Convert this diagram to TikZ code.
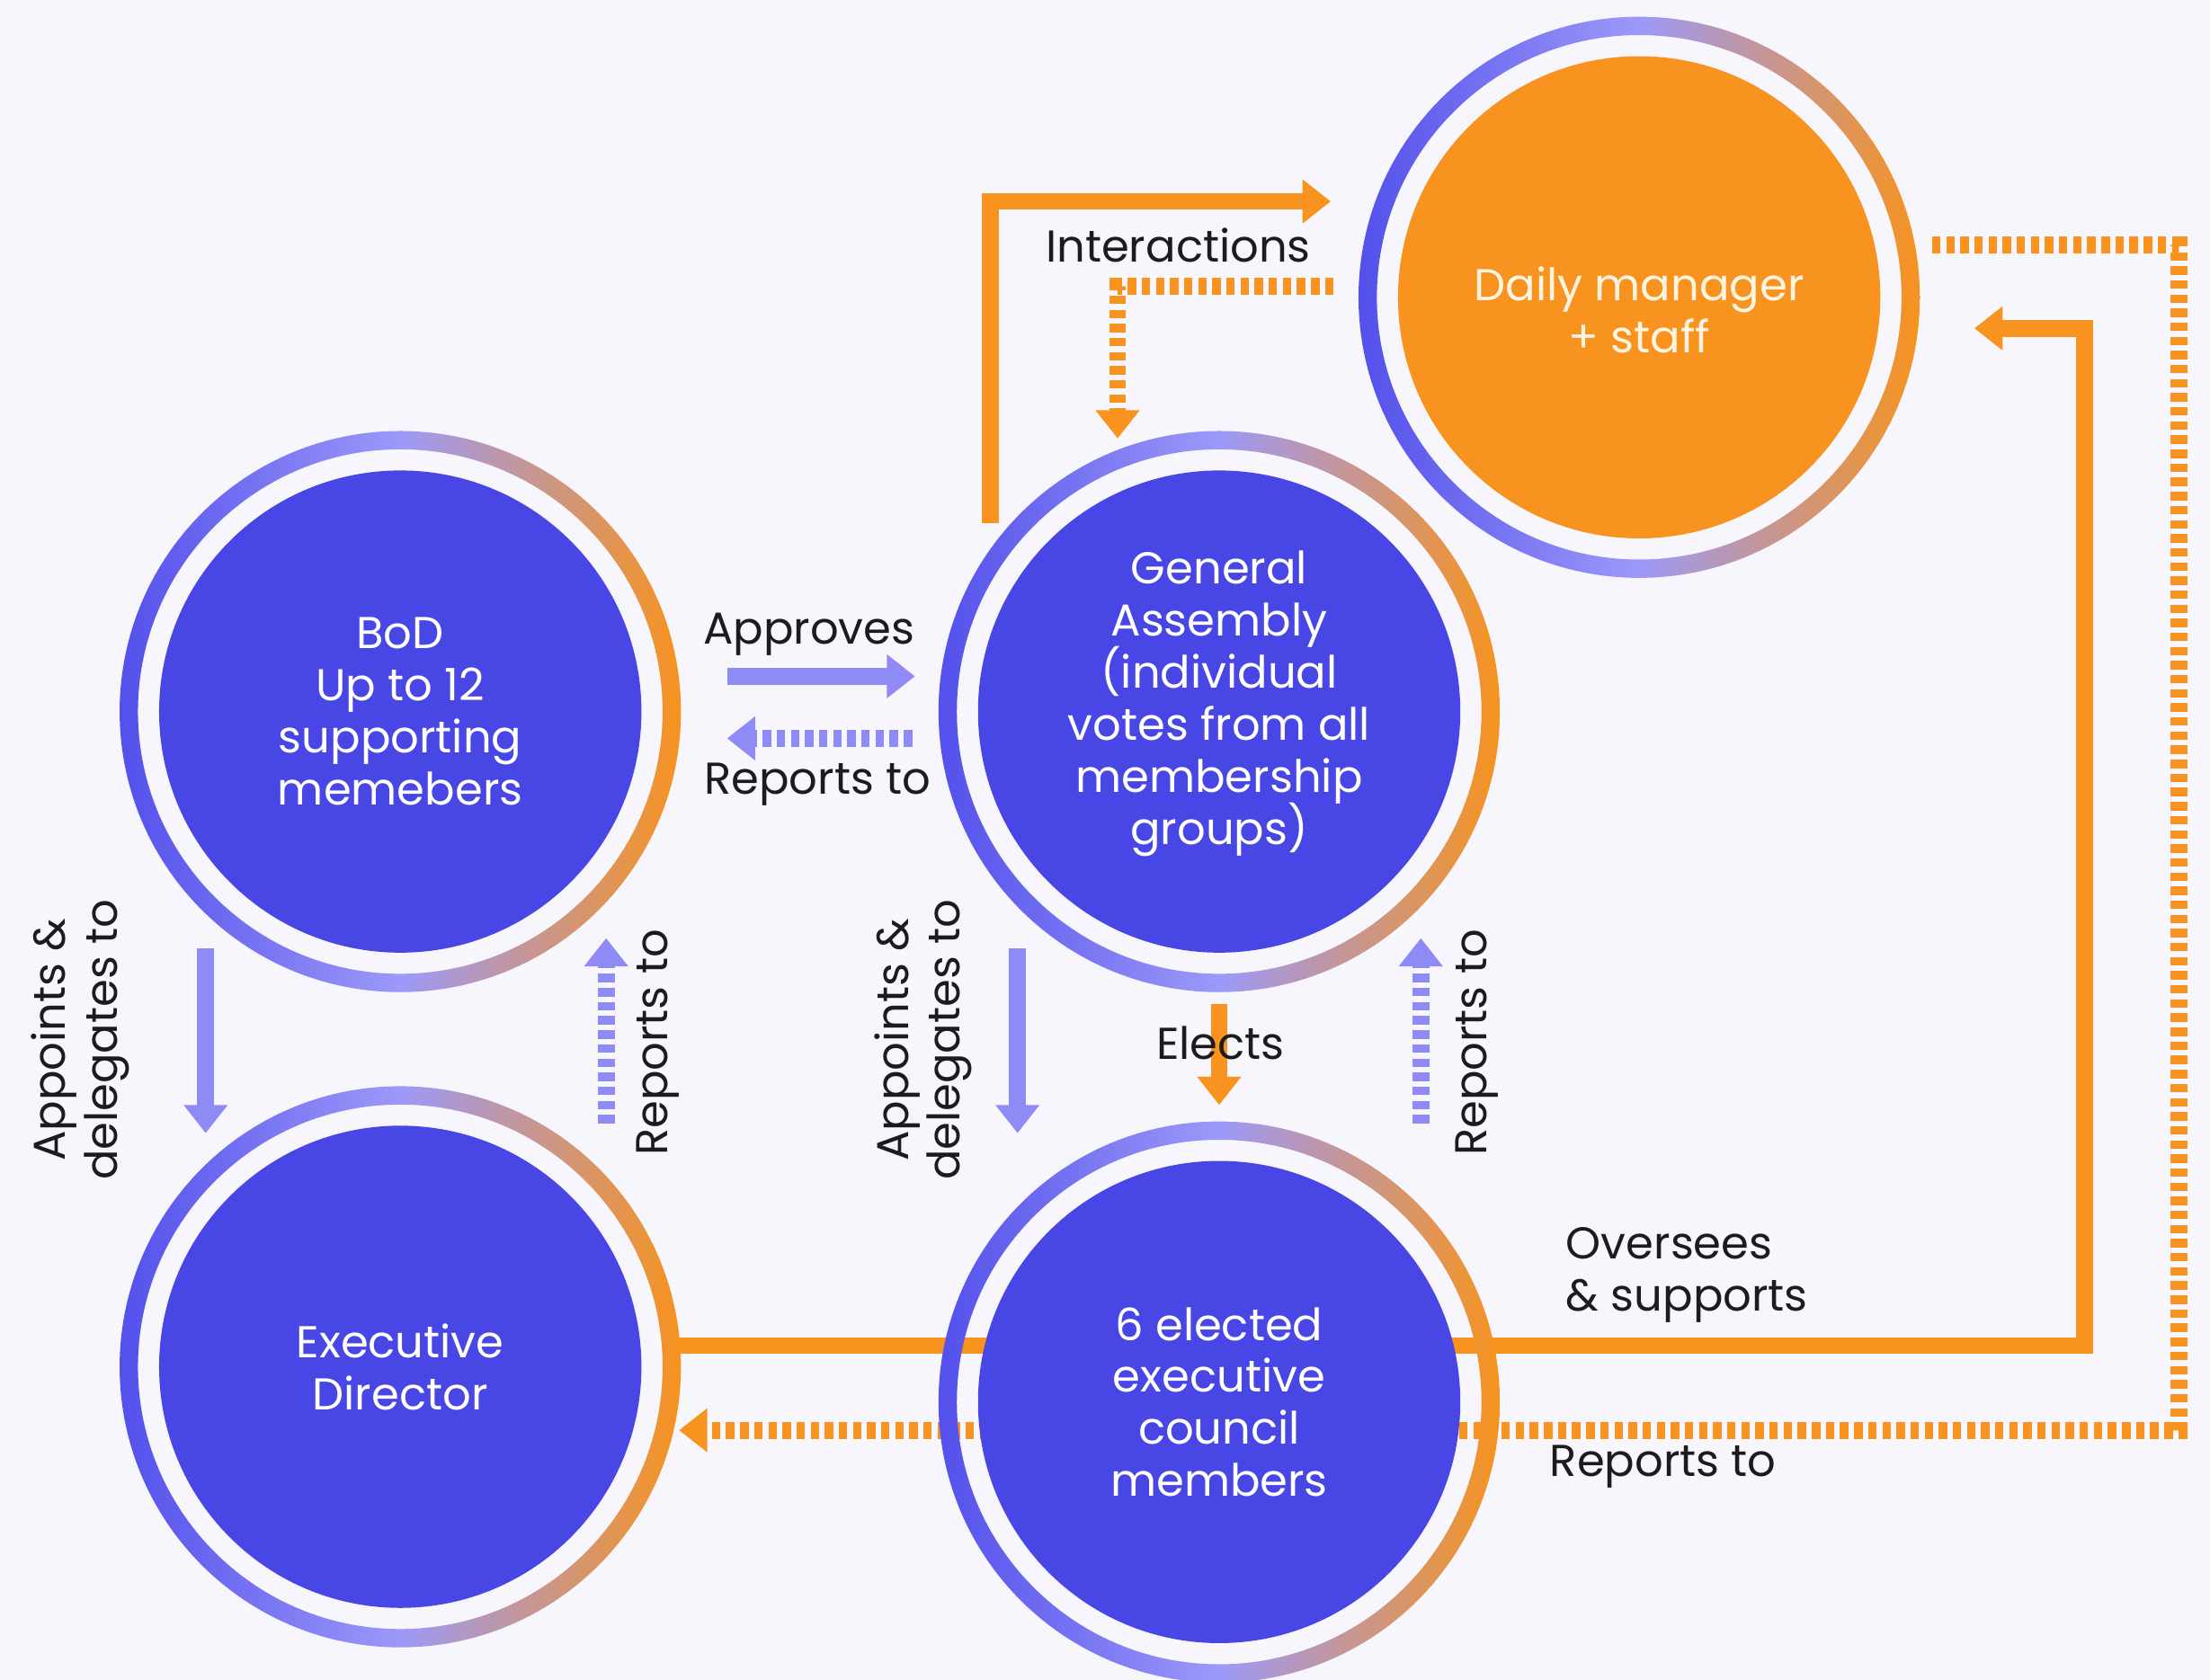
\documentclass[tikz,border=0pt]{standalone}
\usepackage{fontspec}
\setmainfont{Poppins}
\usetikzlibrary{positioning,arrows.meta}
\setlength{\lineskiplimit}{-100pt}
\definecolor{bg-lilac}{HTML}{F8F6FD}
\definecolor{org-blue}{HTML}{4946E6}
\definecolor{org-orange}{HTML}{F7931E}
\definecolor{org-lav}{HTML}{8E8BF7}
\definecolor{ring-blue}{HTML}{5350EC}
\definecolor{ring-lav}{HTML}{9C99F9}
\definecolor{label-ink}{HTML}{1C1C1C}
\definecolor{staff-ink}{HTML}{FFF4E2}
\newdimen\orgfillsize
\setlength{\orgfillsize}{3.42cm}
\tikzstyle{orgnodestyle}=[shape=circle,fill=org-blue,text=white,minimum size=\orgfillsize,inner sep=0pt,align=center,font=\fontsize{9}{10.5}\selectfont]
\tikzstyle{staffnodestyle}=[orgnodestyle,fill=org-orange,text=staff-ink]
\tikzstyle{labelstyle}=[text=label-ink,align=center,font=\fontsize{9}{10.5}\selectfont]
\tikzstyle{linkstyle}=[line width=0.12cm,-{Triangle[length=0.2cm,width=0.3cm]}]
\tikzstyle{lavlinkstyle}=[linkstyle,draw=org-lav]
\tikzstyle{orglinkstyle}=[linkstyle,draw=org-orange]
\tikzstyle{dottedstyle}=[dash pattern=on 0.06cm off 0.04cm]
\newcommand{\orgring}[1]{ \shade[left color=ring-blue,right color=org-orange,middle color=ring-lav,even odd rule] (#1.center) circle (1.99cm) (#1.center) circle (1.86cm); }
\pgfdeclarelayer{back}
\pgfdeclarelayer{links}
\pgfsetlayers{back,links,main}

\begin{document}
\begin{tikzpicture}[x=0.01cm,y=-0.01cm]
\begin{pgfonlayer}{back}
\fill[bg-lilac] (0,0) rectangle (1568,1192); %
\end{pgfonlayer}
\useasboundingbox (0,0) rectangle (1568,1192); %
\node[orgnodestyle] (bod) at (284,505) {BoD\\Up to 12\\supporting\\memebers}; %
\node[orgnodestyle] (ga) at (865,505) {General\\Assembly\\(individual\\votes from all\\membership\\groups)\rule[-0.2cm]{0pt}{0.01cm}}; %
\node[orgnodestyle] (ed) at (284,970) {Executive\\Director}; %
\node[orgnodestyle] (council) at (865,995) {6 elected\\executive\\council\\members}; %
\node[staffnodestyle] (daily) at (1163,211) {\rule{0pt}{0.42cm}Daily manager\\+ staff}; %
\orgring{bod} %
\orgring{ga} %
\orgring{ed} %
\orgring{council} %
\orgring{daily} %
\coordinate (dmin) at ([shift={(0.66cm,-0.22cm)}]daily.east); %
\coordinate (dmout) at ([shift={(0.36cm,0.37cm)}]daily.east); %
\begin{pgfonlayer}{links}
\draw[lavlinkstyle] ([shift={(0.6cm,0.25cm)}]bod.east) -- ([shift={(-0.44cm,0.25cm)}]ga.west); %
\draw[lavlinkstyle,dottedstyle] ([shift={(-0.46cm,-0.19cm)}]ga.west) -- ([shift={(0.6cm,-0.19cm)}]bod.east); %
\draw[lavlinkstyle] ([shift={(-1.38cm,0.04cm)}]bod.south) -- ([shift={(-1.38cm,-0.06cm)}]ed.north); %
\draw[lavlinkstyle,dottedstyle] ([shift={(1.46cm,0.01cm)}]ed.north) -- ([shift={(1.46cm,0.11cm)}]bod.south); %
\draw[lavlinkstyle] ([shift={(-1.43cm,0.04cm)}]ga.south) -- ([shift={(-1.43cm,0.19cm)}]council.north); %
\draw[lavlinkstyle,dottedstyle] ([shift={(1.43cm,0.26cm)}]council.north) -- ([shift={(1.43cm,0.11cm)}]ga.south); %
\draw[orglinkstyle] ([yshift=-0.36cm]ga.south) -- ([yshift=0.39cm]council.north); %
\draw[orglinkstyle] ([shift={(-1.62cm,-0.38cm)}]ga.north) |- ([shift={(-0.47cm,0.68cm)}]daily.west); %
\draw[orglinkstyle,dottedstyle] ([shift={(-0.45cm,0.08cm)}]daily.west) -| ([shift={(-0.72cm,0.22cm)}]ga.north); %
\draw[orglinkstyle] ([shift={(0.25cm,0.15cm)}]ed.east) -| ([xshift=0.78cm]dmin) -- (dmin); %
\draw[orglinkstyle,dottedstyle] (dmout) -- ([xshift=1.75cm]dmout) |- ([shift={(0.26cm,-0.45cm)}]ed.east); %
\end{pgfonlayer}
\node[labelstyle] (approveslbl) at (574,450) {Approves}; %
\node[labelstyle] (bodreplbl) at (580,557) {Reports to}; %
\node[labelstyle,rotate=90] (bodapplbl) at (57,738) {Appoints \&\\delegates to}; %
\node[labelstyle,rotate=90] (edreplbl) at (467,740) {Reports to}; %
\node[labelstyle,rotate=90] (gaapplbl) at (655,738) {Appoints \&\\delegates to}; %
\node[labelstyle] (electslbl) at (866,740) {Elects}; %
\node[labelstyle,rotate=90] (coureplbl) at (1048,740) {Reports to}; %
\node[labelstyle] (interlbl) at (836,174) {Interactions}; %
\node[labelstyle,align=left] (overlbl) at (1197,905) {Oversees\\\& supports}; %
\node[labelstyle] (dmreplbl) at (1180,1041) {Reports to}; %
\end{tikzpicture}
\end{document}
